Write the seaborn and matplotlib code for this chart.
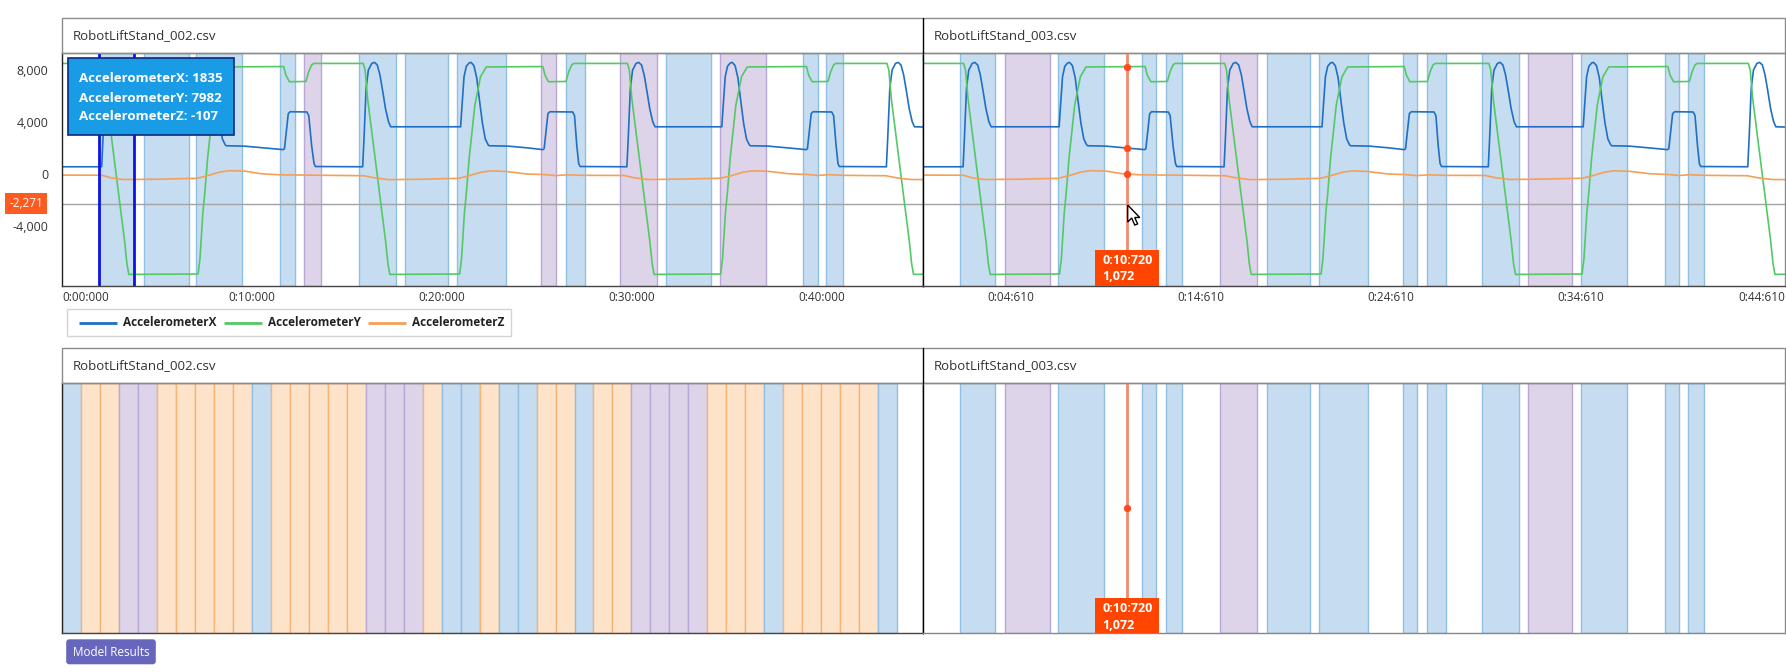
import numpy as np
import pandas as pd
import matplotlib
matplotlib.use("Agg")
import matplotlib.pyplot as plt
import seaborn as sns
from matplotlib.patches import Rectangle, FancyBboxPatch, Polygon
from matplotlib.transforms import blended_transform_factory, ScaledTranslation

# ---- signal data (seconds, raw counts) ----
X_T = [0.0, 2.09, 2.16, 2.27, 2.39, 2.57, 2.71, 2.86, 3.0, 3.15, 3.29, 3.45, 3.57,
       7.15, 7.22, 7.33, 7.45, 7.6, 7.7, 7.85, 8.0, 8.15, 8.3, 8.45, 8.6, 8.65,
       9.6, 10.6, 11.65, 11.72, 11.82, 11.92, 12.02, 12.9, 13.0, 13.15, 13.28, 13.35,
       15.84, 15.91, 16.02, 16.14, 16.32, 16.46, 16.61, 16.75, 16.9, 17.04, 17.2, 17.32,
       21.0, 21.07, 21.18, 21.3, 21.45, 21.55, 21.7, 21.85, 22.0, 22.15, 22.3, 22.45, 22.5,
       23.5, 24.5, 25.33, 25.4, 25.5, 25.6, 25.7, 26.9, 27.0, 27.12, 27.22, 27.3,
       29.76, 29.83, 29.94, 30.06, 30.24, 30.38, 30.53, 30.67, 30.82, 30.96, 31.12, 31.24,
       34.76, 34.83, 34.94, 35.06, 35.21, 35.31, 35.46, 35.61, 35.76, 35.91, 36.06, 36.21, 36.26,
       37.2, 38.2, 39.2, 39.27, 39.37, 39.47, 39.57, 40.55, 40.65, 40.78, 40.88, 40.95,
       43.43, 43.5, 43.61, 43.73, 43.91, 44.05, 44.2, 44.34, 44.49, 44.63, 44.79, 44.91, 45.4]
X_V = [560, 560, 2750, 6600, 8010, 8520, 8600, 8400, 7630, 6340, 5060, 4030, 3640,
       3640, 5200, 7500, 8300, 8560, 8600, 8350, 7400, 5600, 3900, 2700, 2250, 2180,
       2150, 2020, 1880, 1950, 3300, 4650, 4800, 4780, 4500, 2200, 800, 580,
       560, 2750, 6600, 8010, 8520, 8600, 8400, 7630, 6340, 5060, 4030, 3640,
       3640, 5200, 7500, 8300, 8560, 8600, 8350, 7400, 5600, 3900, 2700, 2250, 2180,
       2150, 2020, 1880, 1950, 3300, 4650, 4800, 4780, 4500, 2200, 800, 580,
       560, 2750, 6600, 8010, 8520, 8600, 8400, 7630, 6340, 5060, 4030, 3640,
       3640, 5200, 7500, 8300, 8560, 8600, 8350, 7400, 5600, 3900, 2700, 2250, 2180,
       2150, 2020, 1880, 1950, 3300, 4650, 4800, 4780, 4500, 2200, 800, 580,
       560, 2750, 6600, 8010, 8520, 8600, 8400, 7630, 6340, 5060, 4030, 3640, 3620]

Y_T = [0.0, 2.12, 2.22, 2.35, 2.85, 3.3, 3.42, 3.52,
       7.17, 7.27, 7.42, 7.52, 7.67, 7.97, 8.27, 8.57,
       11.68, 11.8, 11.98, 12.85, 13.0, 13.15, 13.26,
       15.87, 15.97, 16.1, 16.6, 17.05, 17.17, 17.27,
       20.95, 21.05, 21.2, 21.3, 21.45, 21.75, 22.05, 22.35,
       25.33, 25.45, 25.63, 26.55, 26.7, 26.85, 26.96,
       29.79, 29.89, 30.02, 30.52, 30.97, 31.09, 31.19,
       34.7, 34.8, 34.95, 35.05, 35.2, 35.5, 35.8, 36.1,
       39.22, 39.34, 39.52, 40.35, 40.5, 40.65, 40.76,
       43.46, 43.56, 43.69, 44.19, 44.64, 44.76, 44.86, 45.4]
Y_V = [8520, 8520, 8000, 5800, 0, -5200, -6900, -7730,
       -7700, -6500, -3000, -1500, 1200, 5300, 7500, 8250,
       8280, 7600, 7110, 7130, 7900, 8400, 8520,
       8520, 8000, 5800, 0, -5200, -6900, -7730,
       -7700, -6500, -3000, -1500, 1200, 5300, 7500, 8250,
       8280, 7600, 7110, 7130, 7900, 8400, 8520,
       8520, 8000, 5800, 0, -5200, -6900, -7730,
       -7700, -6500, -3000, -1500, 1200, 5300, 7500, 8250,
       8280, 7600, 7110, 7130, 7900, 8400, 8520,
       8520, 8000, 5800, 0, -5200, -6900, -7730, -7720]

Z_T = [0.0, 2.1, 2.6, 3.2, 5.0, 7.1, 7.6, 8.3, 8.8, 9.6, 10.5, 11.5, 13.5, 15.9, 16.5, 17.2, 19.0, 20.9, 21.4, 22.1,
       22.6, 23.4, 24.5, 25.4, 26.0, 26.6, 27.5, 29.6, 30.2, 30.9, 33.0, 34.7, 35.2, 35.9, 36.4, 37.2, 38.3, 39.3,
       39.8, 40.4, 41.2, 43.4, 44.0, 44.7, 45.4]
Z_V = [-80, -90, -300, -420, -400, -330, -150, 150, 260, 230, 20, -60, -90, -130, -300, -430, -400, -330, -150, 150,
       240, 200, 0, -40, -120, -60, -100, -110, -300, -420, -380, -320, -150, 150, 250, 210, 20, -40,
       -110, -50, -100, -130, -300, -420, -430]

SERIES = ["AccelerometerX", "AccelerometerY", "AccelerometerZ"]
COLORS = {"AccelerometerX": "#1f6fc6", "AccelerometerY": "#55c866", "AccelerometerZ": "#f2a05a"}

# labelled segments (start, end) shared by both files, label per file
SEG_START = [1.94, 4.31, 7.08, 11.51, 12.76, 15.65, 18.08, 20.83, 25.26, 26.53, 29.41, 31.83, 34.64, 39.05, 40.26]
SEG_END = [3.79, 6.67, 9.50, 12.26, 13.63, 17.60, 20.36, 23.41, 26.01, 27.54, 31.37, 34.17, 37.08, 39.82, 41.13]
SEG_LABEL_002 = ["b", "b", "b", "b", "p", "b", "b", "b", "p", "b", "p", "b", "p", "b", "b"]
SEG_LABEL_003 = ["b", "p", "b", "b", "b", "p", "b", "b", "b", "b", "b", "p", "b", "b", "b"]

# model results for file 002: one class per 1 s window
WINDOW_SEC = list(range(44))
WINDOW_LABEL = ["b", "o", "o", "p", "p", "o", "o", "o", "o", "o", "b", "o", "o", "o", "o", "o", "p", "p", "p", "o",
                "b", "b", "o", "b", "b", "o", "o", "b", "o", "o", "p", "p", "p", "p", "o", "o", "o", "b", "o", "o",
                "o", "o", "o", "b"]

FILL = {"b": "#c6dcf0", "p": "#ddd4ea", "o": "#fce3ca"}
EDGE = {"b": "#8fbfe3", "p": "#b9a7d6", "o": "#f8b474"}

TICKS_002 = [0, 10, 20, 30, 40]
TICKLAB_002 = ["0:00:000", "0:10:000", "0:20:000", "0:30:000", "0:40:000"]
TICKS_003 = [4.61, 14.61, 24.61, 34.61, 44.61]
TICKLAB_003 = ["0:04:610", "0:14:610", "0:24:610", "0:34:610", "0:44:610"]
YTICKS = [8000, 4000, 0, -4000]
YTICKLAB = ["8,000", "4,000", "0", "-4,000"]

CURSOR_T = 10.72
SEL_T = [1.94, 3.79]
HLINE_V = -2271
TIP_LINES = ["AccelerometerX: 1835", "AccelerometerY: 7982", "AccelerometerZ: -107"]

frames = []
for name, t, v in [("AccelerometerX", X_T, X_V), ("AccelerometerY", Y_T, Y_V), ("AccelerometerZ", Z_T, Z_V)]:
    frames.append(pd.DataFrame({"time": t, "value": v, "series": name}))
df = pd.concat(frames, ignore_index=True)

W, H = 1786, 672
sns.set_theme(style="white")
plt.rcParams["font.family"] = ["Open Sans", "DejaVu Sans"]

fig = plt.figure(figsize=(W / 100, H / 100), dpi=100)


def rect(x0, y0, x1, y1):
    return [x0 / W, 1 - y1 / H, (x1 - x0) / W, (y1 - y0) / H]


XL, XM, XR = 62, 923.4, 1784.8
ax_tl = fig.add_axes(rect(XL, 53.3, XM, 285.7))
ax_tr = fig.add_axes(rect(XM, 53.3, XR, 285.7))
ax_bl = fig.add_axes(rect(XL, 383.3, XM, 633.3))
ax_br = fig.add_axes(rect(XM, 383.3, XR, 633.3))

for ax in (ax_tl, ax_tr, ax_bl, ax_br):
    ax.set_xlim(0, 45.38)
    for s in ax.spines.values():
        s.set_linewidth(1)

# --- top panels: signals over labelled segments ---
for ax, labs in ((ax_tl, SEG_LABEL_002), (ax_tr, SEG_LABEL_003)):
    for t0, t1, lab in zip(SEG_START, SEG_END, labs):
        ax.axvspan(t0, t1, facecolor=FILL[lab], edgecolor=EDGE[lab], lw=1, zorder=0.5)
    ax.axhline(HLINE_V, color="#a3a3a3", lw=1, zorder=1.5)
    sns.lineplot(data=df, x="time", y="value", hue="series", palette=COLORS, estimator=None, sort=False,
                 lw=1.2, legend=False, ax=ax, zorder=2)
    ax.set_xlim(0, 45.38)
    ax.set_ylim(-8600, 9300)
    ax.set_xlabel("")
    ax.set_ylabel("")
    ax.tick_params(axis="both", length=0, labelsize=8.5, labelcolor="#333333")
    ax.tick_params(axis="x", pad=4)

ax_tl.set_yticks(YTICKS)
ax_tl.set_yticklabels(YTICKLAB, fontsize=9)
ax_tl.tick_params(axis="y", pad=10)
ax_tr.set_yticks([])

ax_tl.set_xticks(TICKS_002)
ax_tl.set_xticklabels(TICKLAB_002)
ax_tl.get_xticklabels()[0].set_ha("left")
ax_tr.set_xticks(TICKS_003)
ax_tr.set_xticklabels(TICKLAB_003)
last = ax_tr.get_xticklabels()[-1]
last.set_transform(last.get_transform() + ScaledTranslation(-0.08, 0, fig.dpi_scale_trans))

# selection lines and the -2,271 marker
for t in SEL_T:
    ax_tl.axvline(t, color="#0c14e6", lw=2, zorder=3)
btf = blended_transform_factory(ax_tl.transAxes, ax_tl.transData)
ax_tl.text(-0.0418, HLINE_V, "-2,271", transform=btf, ha="center", va="center", color="white", fontsize=8.5,
           clip_on=False, bbox=dict(boxstyle="square,pad=0.35", fc="#ff5a1f", ec="none"))

# cursor in file 003
ax_tr.axvline(CURSOR_T, color="#f08a70", lw=2, zorder=3)
ax_tr.scatter([CURSOR_T] * 3, [np.interp(CURSOR_T, X_T, X_V), np.interp(CURSOR_T, Y_T, Y_V),
                               np.interp(CURSOR_T, Z_T, Z_V)], color="#ff4b1f", s=28, zorder=4, linewidths=0)

# --- bottom panels: model results ---
ax_bl.bar(WINDOW_SEC, [1] * len(WINDOW_SEC), width=1, align="edge",
          color=[FILL[l] for l in WINDOW_LABEL], edgecolor=[EDGE[l] for l in WINDOW_LABEL], lw=1)
for t0, t1, lab in zip(SEG_START, SEG_END, SEG_LABEL_003):
    ax_br.axvspan(t0, t1, facecolor=FILL[lab], edgecolor=EDGE[lab], lw=1, zorder=0.5)
ax_br.axvline(CURSOR_T, color="#f08a70", lw=2, zorder=3)
ax_br.scatter([CURSOR_T], [0.5], color="#ff4b1f", s=28, zorder=4, linewidths=0)
for ax in (ax_bl, ax_br):
    ax.set_xlim(0, 45.38)
    ax.set_ylim(0, 1)
    ax.set_xticks([])
    ax.set_yticks([])

# cursor value boxes
for ax, hfrac, y1, y2 in ((ax_tr, 35.7 / 232.4, 0.11, 0.039), (ax_br, 35.3 / 250, 0.101, 0.033)):
    tr = blended_transform_factory(ax.transData, ax.transAxes)
    ax.add_patch(Rectangle((9.04, 0), 3.37, hfrac, transform=tr, fc="#ff4500", ec="none", zorder=5))
    ax.text(9.42, y1, "0:10:720", transform=tr, color="white", fontsize=9, fontweight="bold",
            va="center", ha="left", zorder=6)
    ax.text(9.42, y2, "1,072", transform=tr, color="white", fontsize=9, fontweight="bold",
            va="center", ha="left", zorder=6)

# spines
for ax in (ax_tl, ax_bl):
    ax.spines["left"].set_color("#222222")
    ax.spines["right"].set_color("#000000")
    ax.spines["top"].set_color("#8c8c8c")
for ax in (ax_tr, ax_br):
    ax.spines["left"].set_color("#000000")
    ax.spines["right"].set_color("#8c8c8c")
    ax.spines["top"].set_color("#8c8c8c")
for ax in (ax_tl, ax_tr, ax_bl):
    ax.spines["bottom"].set_color("#444444")
ax_br.spines["bottom"].set_color("#888888")

# --- overlay: panel headers, tooltip, legend, button ---
ov = fig.add_axes([0, 0, 1, 1], zorder=10)
ov.set_xlim(0, W)
ov.set_ylim(H, 0)
ov.axis("off")
ov.patch.set_alpha(0)

for ytop, ybot, files in ((18.3, 53.3, ("RobotLiftStand_002.csv", "RobotLiftStand_003.csv")),
                          (348.3, 383.3, ("RobotLiftStand_002.csv", "RobotLiftStand_003.csv"))):
    ov.add_patch(Rectangle((XL, ytop), XR - XL, ybot - ytop, fill=False, ec="#8c8c8c", lw=1))
    ov.plot([XM, XM], [ytop, ybot], color="black", lw=1)
    ov.text(XL + 10.7, (ytop + ybot) / 2, files[0], fontsize=9.5, color="#333333", va="center", ha="left")
    ov.text(XM + 10.6, (ytop + ybot) / 2, files[1], fontsize=9.5, color="#333333", va="center", ha="left")

# tooltip
ov.add_patch(Rectangle((68, 58.3), 165.5, 77, fc="#1a9be6", ec="#0d2a7a", lw=1.2))
for i, line in enumerate(TIP_LINES):
    ov.text(79, 79 + i * 19, line, color="white", fontsize=9.5, fontweight="bold", va="center", ha="left")

# legend
ov.add_patch(Rectangle((67, 309), 444, 27, fc="white", ec="#d4d4d4", lw=1))
for x0, name in zip([78.5, 224, 368], SERIES):
    ov.plot([x0, x0 + 38], [323, 323], color=COLORS[name], lw=2, solid_capstyle="butt")
    ov.text(x0 + 44.5, 323, name, fontsize=8.5, fontweight="bold", color="#222222", va="center", ha="left")

# mouse pointer
tip_x, tip_y = 1127.7, 205
arrow = [(0, 0), (0, 17), (4, 13), (7, 20), (10, 19), (7, 12.5), (12, 12.5)]
ov.add_patch(Polygon([(tip_x + a, tip_y + b) for a, b in arrow], closed=True, fc="white", ec="black", lw=1))

# button
ov.add_patch(FancyBboxPatch((69.2, 642.3), 83.6, 19, boxstyle="round,pad=3", fc="#6766bd", ec="none"))
ov.text(111, 652, "Model Results", color="white", fontsize=8.5, va="center", ha="center")

fig.savefig("out.png", dpi=100)
